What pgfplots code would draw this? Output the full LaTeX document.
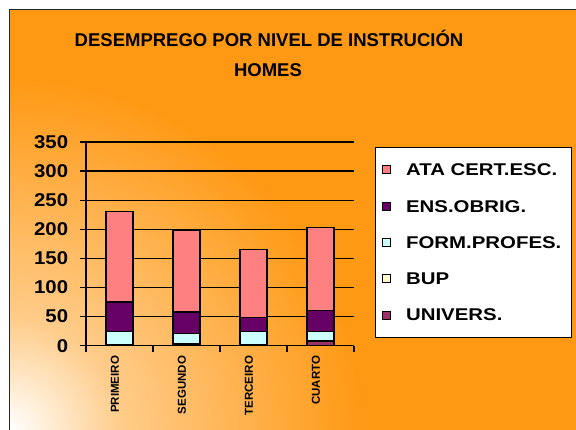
\documentclass[border=0pt]{standalone}
\usepackage{pgfplots}
\pgfplotsset{compat=1.18}
\usepackage{fontspec}
\setmainfont{Liberation Sans}
\newfontfamily\legfont[FakeStretch=1.2]{Liberation Sans}
\newfontfamily\tickfont[FakeStretch=1.1]{Liberation Sans}
\definecolor{bgorange}{RGB}{255,153,20}
\definecolor{cata}{RGB}{255,128,128}
\definecolor{cens}{RGB}{102,0,102}
\definecolor{cform}{RGB}{204,255,255}
\definecolor{cbup}{RGB}{255,255,204}
\definecolor{cuniv}{RGB}{153,51,102}
\pgfdeclareradialshading{bgshade}{\pgfpoint{0bp}{0bp}}{color(0bp)=(white); color(7bp)=(bgorange!50!white); color(22bp)=(bgorange); color(50bp)=(bgorange)}
\begin{document}
\begin{tikzpicture}[x=1pt,y=1pt]
\useasboundingbox (0,0) rectangle (576,430);
\fill[white] (0,0) rectangle (576,430);
\begin{scope}
\clip (9,-5) rectangle (590,420);
\fill[bgorange] (9,-5) rectangle (590,420);
\shade[shading=bgshade] (9,0) circle (400);
\end{scope}
\draw[black!85, line width=1pt] (9,-5) -- (9,420) -- (590,420);
\node[font=\fontsize{18.5}{20}\selectfont\bfseries] at (269,391.7) {DESEMPREGO POR NIVEL DE INSTRUCIÓN};
\node[font=\fontsize{18.5}{20}\selectfont\bfseries] at (268,360) {HOMES};
\begin{axis}[
  at={(86pt,84.3pt)}, anchor=south west,
  scale only axis, width=268pt, height=203.7pt,
  xmin=0.5, xmax=4.5, ymin=0, ymax=350,
  ybar stacked, bar width=27pt,
  axis lines*=left, axis line style={-, line width=1.2pt, black},
  ymajorgrids, grid style={black, line width=1.2pt},
  ytick={0,50,...,350},
  tick align=outside, major tick length=6pt,
  tick style={black, line width=1.2pt},
  /pgf/number format/assume math mode=true,
  yticklabel style={font=\tickfont\fontsize{18.5}{20}\selectfont\bfseries, inner sep=0pt, xshift=-11.7pt},
  xtick={0.5,1.5,2.5,3.5,4.5}, xticklabels={},
  extra x ticks={1,2,3,4},
  extra x tick labels={PRIMEIRO,SEGUNDO,TERCEIRO,CUARTO},
  extra x tick style={major tick length=0pt, grid=none,
    xticklabel style={font=\fontsize{11.5}{12}\selectfont\bfseries, inner sep=0pt, yshift=-10pt, xshift=-4.5pt, rotate=90, anchor=east}},
  reverse legend,
  legend image code/.code={\draw[#1, draw=black, line width=0.8pt] (0pt,-4pt) rectangle (8pt,4pt);},
  legend style={at={(1.078,0.977)}, anchor=north west, draw=black, line width=0.8pt, fill=white,
    font=\legfont\fontsize{17}{17}\selectfont\bfseries,
    nodes={inner sep=0pt, text height=12pt, text depth=0pt},
    row sep=24.3pt, column sep=15.3pt, inner xsep=6.7pt, inner ysep=16.7pt},
  legend cell align=left,
]
\addplot[fill=cuniv, draw=black, line width=1.2pt] coordinates {(1,1) (2,2) (3,1) (4,8)};
\addlegendentry{\makebox[159pt][l]{UNIVERS.}}
\addplot[fill=cbup, draw=black, line width=1.2pt] coordinates {(1,1) (2,1) (3,1) (4,1)};
\addlegendentry{\makebox[159pt][l]{BUP}}
\addplot[fill=cform, draw=black, line width=1.2pt] coordinates {(1,22) (2,18) (3,22) (4,15)};
\addlegendentry{\makebox[159pt][l]{FORM.PROFES.}}
\addplot[fill=cens, draw=black, line width=1.2pt] coordinates {(1,51) (2,37) (3,24) (4,37)};
\addlegendentry{\makebox[159pt][l]{ENS.OBRIG.}}
\addplot[fill=cata, draw=black, line width=1.2pt] coordinates {(1,155) (2,140) (3,117) (4,142)};
\addlegendentry{\makebox[159pt][l]{ATA CERT.ESC.}}
\end{axis}
\end{tikzpicture}
\end{document}
